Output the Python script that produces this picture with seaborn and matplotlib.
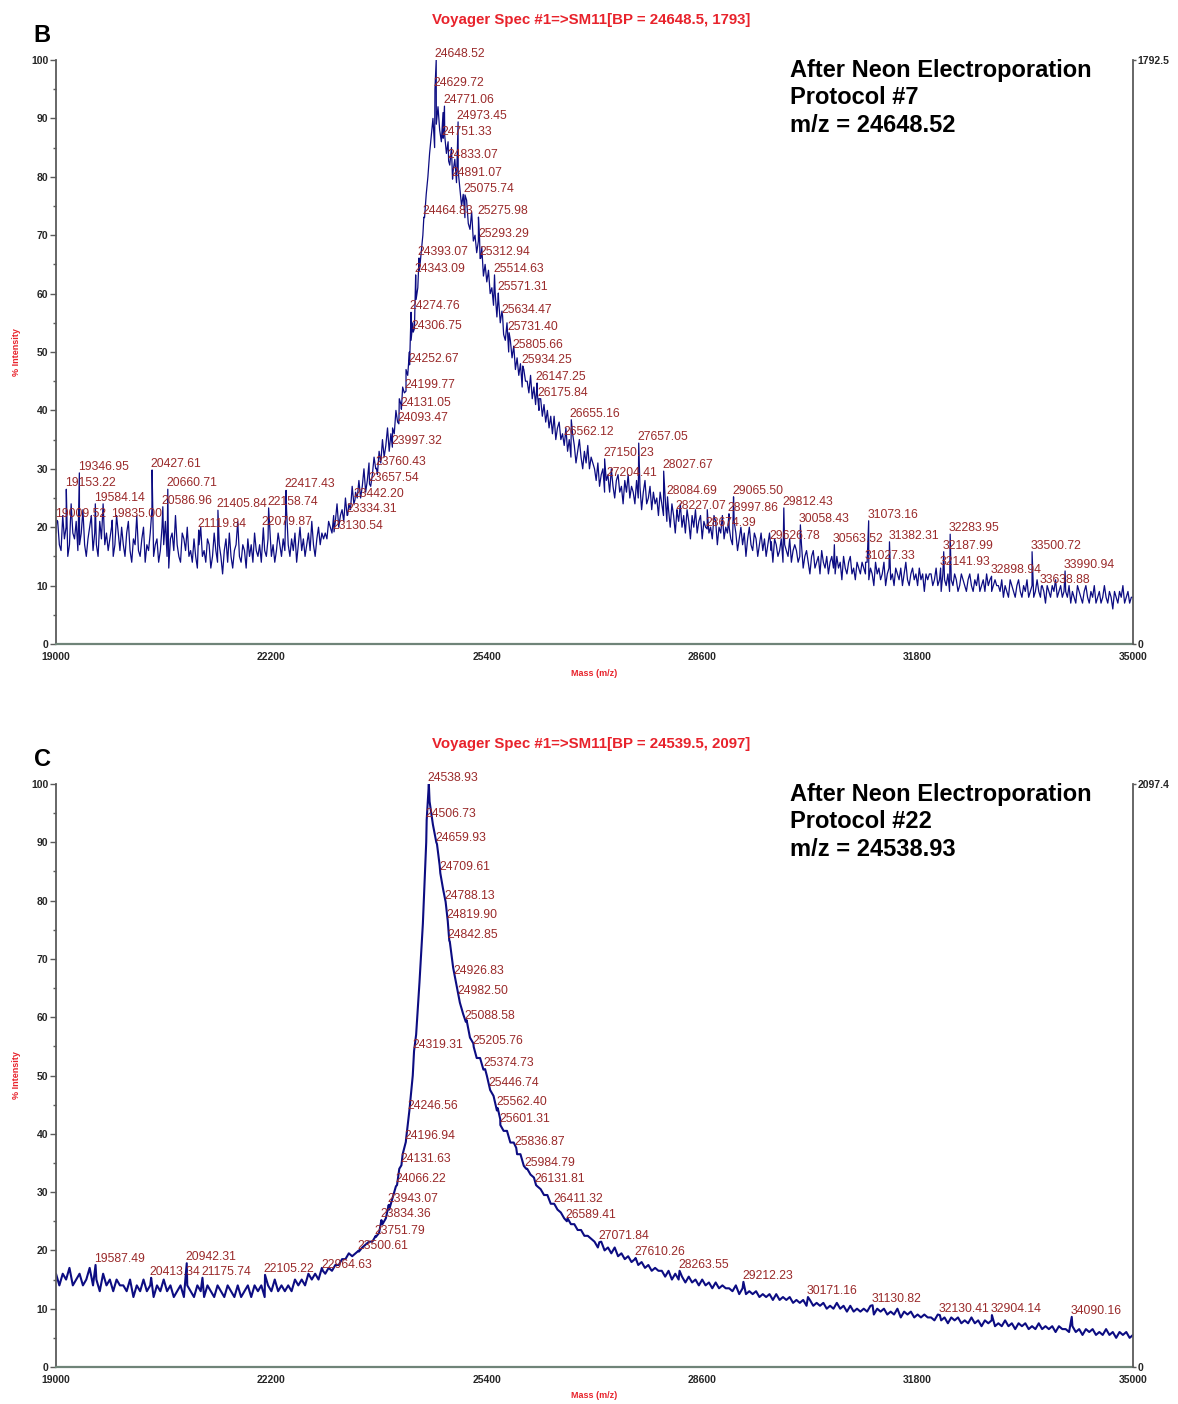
import numpy as np
import pandas as pd
import matplotlib
matplotlib.use("Agg")
import matplotlib.pyplot as plt
from matplotlib.ticker import MultipleLocator
import seaborn as sns

# ---------------------------------------------------------------- data
MZ_START, MZ_STOP = 19000, 35000
x_ticks = [19000, 22200, 25400, 28600, 31800, 35000]

# Spectrum B: % intensity sampled every 25 Da from 19000 to 35000
b_trace = [
    19, 21, 17, 16, 22, 18, 20, 15, 17, 24, 19, 18, 21, 16, 17, 19, 23, 17, 15, 18,
    20, 22, 16, 19, 17, 15, 21, 18, 24, 17, 19, 16, 18, 20, 15, 17, 22, 19, 16, 20,
    17, 15, 19, 21, 16, 14, 18, 17, 22, 16, 15, 18, 20, 14, 17, 16, 19, 23, 15, 17,
    18, 14, 16, 20, 17, 21, 15, 13, 18, 19, 16, 22, 17, 15, 14, 19, 18, 16, 20, 15,
    16, 14, 18, 15, 13, 17, 20, 15, 16, 14, 18, 17, 13, 15, 19, 16, 14, 17, 15, 12,
    16, 18, 14, 19, 15, 13, 16, 17, 21, 15, 14, 17, 16, 13, 18, 15, 17, 14, 19, 16,
    15, 17, 14, 19, 16, 15, 18, 20, 15, 17, 14, 16, 19, 17, 15, 18, 16, 23, 17, 15,
    18, 16, 19, 14, 17, 20, 16, 18, 15, 17, 19, 16, 21, 17, 15, 18, 20, 17, 19, 18,
    19, 18, 21, 20, 19, 22, 21, 24, 20, 22, 23, 21, 25, 22, 24, 23, 27, 24, 26, 25,
    28, 25, 27, 30, 26, 28, 31, 27, 29, 32, 30, 29, 33, 31, 35, 32, 34, 37, 33, 36,
    37, 36, 40, 38, 42, 41, 44, 43, 47, 46, 50, 52, 55, 54, 59, 61, 64, 67, 70, 73,
    77, 80, 84, 87, 90, 85, 89, 92, 88, 86, 91, 87, 84, 86, 82, 85, 81, 83, 79, 81,
    78, 75, 77, 73, 76, 72, 71, 74, 69, 70, 67, 69, 66, 68, 63, 65, 62, 64, 60, 61,
    58, 60, 56, 59, 55, 57, 53, 52, 55, 50, 52, 49, 51, 47, 49, 46, 48, 44, 47, 45,
    45, 43, 46, 42, 44, 41, 43, 40, 42, 39, 41, 38, 40, 37, 39, 36, 39, 35, 37, 38,
    35, 36, 34, 37, 33, 35, 32, 36, 34, 31, 33, 35, 32, 30, 33, 31, 34, 30, 32, 31,
    30, 28, 31, 27, 29, 30, 26, 28, 29, 26, 30, 27, 25, 28, 29, 26, 27, 24, 28, 26,
    29, 25, 27, 26, 24, 28, 25, 27, 23, 26, 28, 24, 25, 27, 23, 26, 24, 25, 22, 26,
    24, 22, 25, 21, 23, 20, 24, 22, 19, 23, 21, 24, 20, 22, 19, 23, 21, 18, 22, 20,
    23, 19, 21, 22, 18, 21, 20, 23, 19, 20, 18, 22, 21, 17, 20, 19, 22, 18, 20, 19,
    20, 18, 17, 21, 19, 16, 18, 20, 17, 19, 15, 18, 20, 17, 16, 19, 18, 15, 17, 19,
    16, 18, 15, 17, 19, 16, 14, 18, 17, 15, 16, 18, 14, 17, 16, 15, 18, 14, 16, 17,
    16, 14, 15, 17, 13, 15, 16, 14, 12, 15, 16, 13, 14, 15, 12, 16, 14, 13, 15, 12,
    14, 15, 13, 12, 15, 13, 14, 11, 15, 13, 12, 14, 15, 12, 13, 11, 14, 13, 12, 14,
    13, 12, 14, 11, 13, 12, 10, 14, 12, 13, 11, 12, 14, 10, 12, 13, 11, 12, 10, 13,
    12, 11, 13, 10, 12, 14, 11, 10, 12, 13, 11, 12, 10, 13, 11, 12, 9, 12, 11, 12,
    12, 10, 11, 13, 10, 11, 9, 12, 11, 10, 12, 9, 11, 10, 12, 11, 9, 10, 12, 11,
    10, 9, 11, 12, 10, 9, 11, 10, 12, 9, 10, 11, 9, 12, 10, 11, 9, 10, 11, 10,
    10, 9, 11, 8, 10, 9, 8, 11, 10, 9, 8, 10, 11, 9, 8, 10, 9, 11, 8, 9,
    10, 8, 9, 11, 9, 8, 10, 9, 7, 10, 9, 8, 10, 9, 11, 8, 9, 10, 8, 9,
    9, 8, 10, 7, 9, 8, 7, 10, 9, 8, 7, 9, 10, 8, 7, 9, 8, 10, 7, 8,
    9, 7, 8, 10, 8, 7, 9, 8, 6, 9, 8, 7, 9, 8, 10, 7, 8, 9, 7, 8,
    8,
]

# Spectrum B: labelled peaks (m/z, % intensity)
b_peak_mz = [
    24648.52, 24629.72, 24771.06, 24973.45, 24751.33, 24833.07, 24891.07,
    25075.74, 24464.83, 25275.98, 25293.29, 24393.07, 25312.94, 24343.09,
    25514.63, 25571.31, 24274.76, 25634.47, 24306.75, 25731.40, 25805.66,
    24252.67, 25934.25, 26147.25, 24199.77, 26175.84, 24131.05, 24093.47,
    26655.16, 26562.12, 27657.05, 23997.32, 27150.23, 23760.43, 27204.41,
    28027.67, 23657.54, 19346.95, 20427.61, 19153.22, 20660.71, 22417.43,
    23442.20, 19584.14, 20586.96, 21405.84, 22158.74, 23334.31, 19009.52,
    19835.00, 21119.84, 22079.87, 23130.54, 28084.69, 29065.50, 28997.86,
    28227.07, 29812.43, 28674.39, 30058.43, 31073.16, 29626.78, 30563.52,
    31382.31, 32283.95, 31027.33, 32187.99, 33500.72, 32141.93, 32898.94,
    33990.94, 33638.88,
]
b_peak_int = [
    100.0, 95.0, 92.1, 89.4, 86.6, 82.7, 79.6,
    76.9, 73.1, 73.1, 69.2, 66.1, 66.1, 63.2,
    63.2, 60.1, 56.8, 56.2, 53.4, 53.3, 50.2,
    47.8, 47.6, 44.7, 43.3, 42.0, 40.2, 37.7,
    38.4, 35.3, 34.4, 33.7, 31.7, 30.1, 28.3,
    29.6, 27.4, 29.3, 29.8, 26.5, 26.5, 26.3,
    24.7, 24.0, 23.5, 22.9, 23.3, 22.1, 21.2,
    21.2, 19.5, 19.9, 19.2, 25.2, 25.2, 22.3,
    22.6, 23.3, 19.7, 20.4, 21.1, 17.5, 17.0,
    17.5, 18.8, 14.0, 15.8, 15.8, 13.0, 11.6,
    12.5, 9.9,
]

# Spectrum C: % intensity sampled every 50 Da from 19000 to 35000
c_trace = [
    16, 14, 16, 15, 17, 14, 15, 16, 14, 15, 17, 14, 15, 13, 16, 14, 15, 13, 15, 14,
    14, 13, 15, 12, 14, 13, 15, 13, 14, 12, 14, 13, 15, 13, 14, 12, 13, 14, 12, 14,
    13, 12, 14, 13, 12, 14, 13, 12, 14, 13, 12, 14, 13, 12, 14, 12, 13, 14, 12, 14,
    13, 14, 12, 14, 13, 15, 13, 14, 13, 14, 13, 15, 14, 15, 14, 16, 15, 16, 15, 17,
    16, 17, 16.5, 17.5, 17.5, 18.5, 18.5, 19.5, 19, 19.5, 20, 20.5, 21, 21.5, 21.5, 22.5, 23, 24.5, 25.5, 27,
    29, 31, 34, 36.5, 39, 44, 50, 57, 66, 76, 90, 97, 93, 90, 86, 82, 78.5, 73, 68.5, 65.5,
    62.5, 60.5, 59.5, 56.5, 55.5, 53, 53, 51, 50, 47.5, 46.5, 44, 42.5, 40.5, 40.5, 38.5, 38.5, 36.5, 36.5, 34.5,
    34, 33, 32.5, 31, 30.5, 29.5, 29.5, 28, 28, 27, 26.5, 25.5, 25.5, 24.5, 24.5, 23.5, 23.5, 22.5, 22.5, 22,
    21.5, 20.5, 21.5, 20, 20.5, 19.5, 20.5, 19, 19.5, 18.5, 19, 18, 18.5, 17.5, 18, 17, 17.5, 16.5, 17, 16.5,
    16.5, 15.5, 16.5, 15, 16, 15, 15.5, 14.5, 15.5, 14.5, 15, 14, 15, 14, 14.5, 13.5, 14.5, 13.5, 14, 13.5,
    13.5, 13, 14, 12.5, 13.5, 12.5, 13, 12.5, 13, 12, 12.5, 12, 12.5, 11.5, 12.5, 11.5, 12, 11.5, 12, 11,
    11.5, 11, 11.5, 10.5, 11.5, 10.5, 11, 10.5, 11, 10, 10.5, 10, 11, 10, 10.5, 9.5, 10.5, 9.5, 10, 9.5,
    10, 9.5, 10.5, 9, 10, 9.5, 10, 9, 9.5, 9, 10, 8.5, 9.5, 9, 9.5, 8.5, 9, 8.5, 9, 8.5,
    8.5, 8, 9, 8, 8.5, 7.5, 8.5, 8, 8.5, 7.5, 8, 7.5, 8.5, 7.5, 8, 7, 8, 7.5, 8, 7,
    7.5, 7, 8, 7, 7.5, 6.5, 7.5, 7, 7.5, 6.5, 7, 6.5, 7.5, 6.5, 7, 6.5, 7, 6, 7, 6.5,
    6.5, 6, 7, 6, 6.5, 5.5, 6.5, 6, 6.5, 5.5, 6, 5.5, 6.5, 5.5, 6, 5, 6, 5.5, 6, 5,
    5.5,
]

# Spectrum C: labelled peaks (m/z, % intensity)
c_peak_mz = [
    24538.93, 24506.73, 24659.93, 24709.61, 24788.13, 24819.90, 24842.85,
    24926.83, 24982.50, 25088.58, 24319.31, 25205.76, 25374.73, 25446.74,
    24246.56, 25562.40, 25601.31, 25836.87, 24196.94, 25984.79, 24131.63,
    26131.81, 24066.22, 23943.07, 26411.32, 26589.41, 23834.36, 27071.84,
    23751.79, 23500.61, 27610.26, 28263.55, 29212.23, 30171.16, 31130.82,
    32130.41, 32904.14, 34090.16, 19587.49, 20942.31, 20413.34, 21175.74,
    22105.22, 22964.63,
]
c_peak_int = [
    100.0, 93.8, 89.7, 84.7, 79.8, 76.5, 73.1,
    66.9, 63.5, 59.2, 54.2, 54.9, 51.1, 47.7,
    43.7, 44.4, 41.5, 37.6, 38.6, 34.0, 34.6,
    31.2, 31.2, 27.8, 27.8, 25.0, 25.2, 21.4,
    22.3, 19.8, 18.7, 16.5, 14.6, 12.0, 10.6,
    8.9, 8.9, 8.6, 17.5, 17.8, 15.3, 15.3,
    15.8, 16.5,
]

panels = [
    dict(letter="B", trace=b_trace, peak_mz=b_peak_mz, peak_int=b_peak_int, lw=0.9,
         title="Voyager Spec #1=>SM11[BP = 24648.5, 1793]", counts=1792.5,
         note="After Neon Electroporation\nProtocol #7\nm/z = 24648.52"),
    dict(letter="C", trace=c_trace, peak_mz=c_peak_mz, peak_int=c_peak_int, lw=1.5,
         title="Voyager Spec #1=>SM11[BP = 24539.5, 2097]", counts=2097.4,
         note="After Neon Electroporation\nProtocol #22\nm/z = 24538.93"),
]

# ---------------------------------------------------------------- style
sns.set_style("white")
plt.rcParams["font.family"] = ["Liberation Sans", "DejaVu Sans"]

W, H = 1178, 1404
LINE = "#0c0c82"
LABEL = "#9a2a2a"
RED = "#e8222b"
AXIS = "#5a5a5a"
BASE = "#6f8478"

fig = plt.figure(figsize=(W / 100, H / 100), dpi=100)

# axes boxes in pixels: (left, top, right, bottom)
boxes = [(56, 60, 1133, 644), (56, 784, 1133, 1367)]

for p, (l, t, r, b) in zip(panels, boxes):
    ax = fig.add_axes([l / W, 1 - b / H, (r - l) / W, (b - t) / H])

    mz_grid = np.linspace(MZ_START, MZ_STOP, len(p["trace"]))
    trace = pd.DataFrame({"mz": mz_grid, "intensity": p["trace"]})
    peaks = pd.DataFrame({"mz": p["peak_mz"], "intensity": p["peak_int"]})
    spec = pd.concat([trace, peaks]).sort_values("mz").reset_index(drop=True)

    sns.lineplot(data=spec, x="mz", y="intensity", estimator=None, sort=True,
                 color=LINE, linewidth=p["lw"], ax=ax)

    # peak annotations
    for mz, inten in zip(p["peak_mz"], p["peak_int"]):
        ax.annotate(f"{mz:.2f}", xy=(mz, inten), xytext=(-1, 0),
                    textcoords="offset points", ha="left", va="bottom",
                    fontsize=8.8, color=LABEL, clip_on=False)

    ax.set_xlim(MZ_START, MZ_STOP)
    ax.set_ylim(0, 100)
    ax.set_xlabel("")
    ax.set_ylabel("")

    ax.set_xticks(x_ticks, labels=[str(v) for v in x_ticks],
                  fontsize=7.5, fontweight="bold")
    ax.xaxis.set_minor_locator(MultipleLocator(1600))
    yt = list(range(0, 101, 10))
    ax.set_yticks(yt, labels=[str(v) for v in yt], fontsize=7.5, fontweight="bold")
    ax.yaxis.set_minor_locator(MultipleLocator(5))
    ax.tick_params(axis="both", which="major", direction="out", length=4,
                   width=1, color=AXIS, pad=1.5)
    ax.tick_params(axis="both", which="minor", direction="out", length=2.5,
                   width=1, color=AXIS)
    ax.tick_params(axis="x", which="both", color=BASE)

    ax.spines["top"].set_visible(False)
    ax.spines["right"].set_visible(False)
    ax.spines["left"].set_color(AXIS)
    ax.spines["left"].set_linewidth(1.3)
    ax.spines["bottom"].set_color(BASE)
    ax.spines["bottom"].set_linewidth(1.6)

    # right-hand raw counts axis
    ax2 = ax.twinx()
    ax2.set_ylim(0, p["counts"])
    ax2.set_yticks([0, p["counts"]], labels=["0", f"{p['counts']:g}"],
                   fontsize=7.5, fontweight="bold")
    ax2.tick_params(axis="y", length=2, width=1, color=AXIS, pad=1)
    for side in ("top", "left", "bottom"):
        ax2.spines[side].set_visible(False)
    ax2.spines["right"].set_color(AXIS)
    ax2.spines["right"].set_linewidth(1.3)
    ax2.grid(False)

    # axis titles
    ax.text(-40 / (r - l), 0.5, "% Intensity", transform=ax.transAxes,
            rotation=90, ha="center", va="center", fontsize=6.5,
            fontweight="bold", color=RED)
    ax.text(0.5, -29 / (b - t), "Mass (m/z)", transform=ax.transAxes,
            ha="center", va="center", fontsize=6.5, fontweight="bold", color=RED)

    # header and panel letter
    fig.text(591 / W, 1 - (t - 40) / H, p["title"], ha="center", va="center",
             fontsize=10.8, fontweight="bold", color=RED)
    fig.text(42 / W, 1 - (t - 25) / H, p["letter"], ha="center", va="center",
             fontsize=17, fontweight="bold", color="black")

    # description block
    fig.text(790 / W, 1 - (t - 1) / H, p["note"], ha="left", va="top",
             fontsize=17, fontweight="bold", color="black", linespacing=1.25)

fig.savefig("out.png", dpi=100, facecolor="white")
